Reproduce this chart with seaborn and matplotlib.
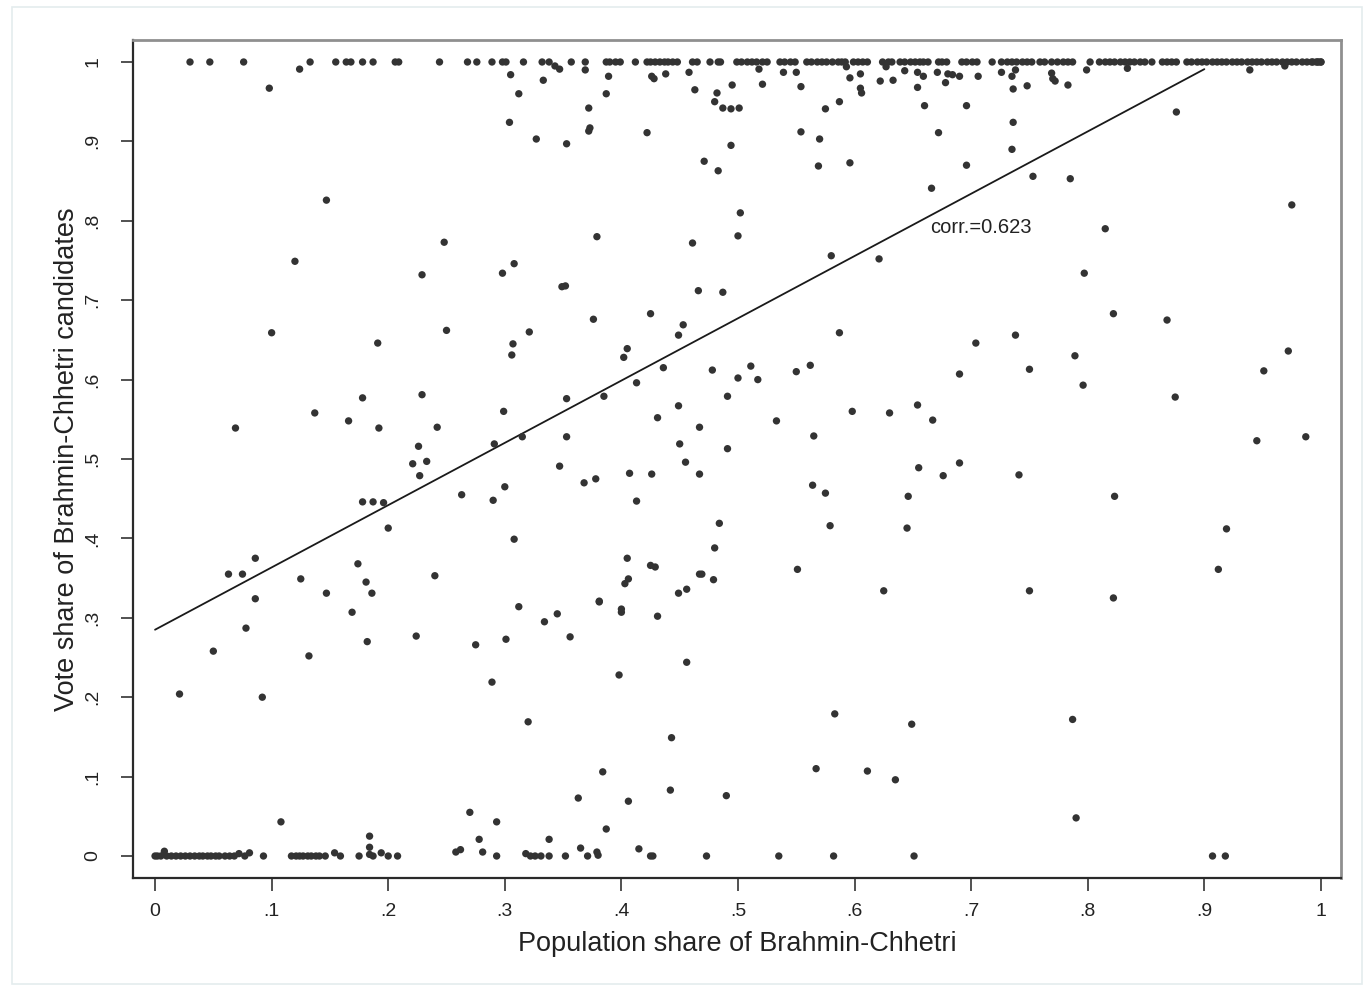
import numpy as np
import pandas as pd
import matplotlib
matplotlib.use("Agg")
import matplotlib.pyplot as plt
import seaborn as sns
from matplotlib.patches import Rectangle

sns.set_style("white")
plt.rcParams['font.family'] = ['Liberation Sans', 'DejaVu Sans']

# ---------------- data ----------------
# constituencies with vote share = 1
top_row_x = [0.030, 0.047, 0.076, 0.133, 0.155, 0.164, 0.168, 0.178, 0.187, 0.206, 0.209,
             0.244, 0.268, 0.276, 0.289, 0.298, 0.301, 0.316, 0.332,
             0.338, 0.357, 0.369, 0.387, 0.390, 0.395, 0.399, 0.412, 0.422, 0.425, 0.429,
             0.433, 0.437, 0.440, 0.444, 0.448, 0.461, 0.465, 0.476, 0.483, 0.485, 0.499,
             0.503, 0.508, 0.512, 0.516, 0.521, 0.525, 0.536, 0.540, 0.545, 0.549, 0.559,
             0.563, 0.568, 0.572, 0.576, 0.581, 0.586, 0.589, 0.592, 0.599, 0.603, 0.607,
             0.611, 0.624, 0.629, 0.632, 0.639, 0.643, 0.648, 0.652, 0.656, 0.659, 0.663,
             0.672, 0.675, 0.679, 0.692, 0.696, 0.701, 0.705, 0.718, 0.726, 0.731, 0.735,
             0.739, 0.744, 0.748, 0.752, 0.759, 0.763, 0.769, 0.774, 0.779, 0.783, 0.787,
             0.802, 0.810, 0.815, 0.819, 0.823, 0.828, 0.832, 0.836, 0.840, 0.845, 0.849,
             0.855, 0.864, 0.868, 0.872, 0.876, 0.885, 0.889, 0.894, 0.898, 0.902, 0.907,
             0.911, 0.915, 0.919, 0.924, 0.928, 0.932, 0.937, 0.941, 0.945, 0.949, 0.954,
             0.958, 0.962, 0.967, 0.971, 0.975, 0.979, 0.984, 0.988, 0.992, 0.993, 0.996,
             0.997, 0.998, 1.000, 1.000]

# constituencies with vote share = 0 (or almost 0)
bottom_row_x = [0.000, 0.002, 0.005, 0.008, 0.010, 0.014, 0.018, 0.022, 0.026, 0.030, 0.034,
                0.038, 0.041, 0.045, 0.048, 0.052, 0.055, 0.060, 0.064, 0.068, 0.072, 0.077,
                0.081, 0.093, 0.117, 0.121, 0.124, 0.127, 0.131, 0.134, 0.138, 0.141, 0.146,
                0.154, 0.159, 0.175, 0.184, 0.187, 0.194, 0.200, 0.208, 0.258, 0.262, 0.281,
                0.293, 0.318, 0.322, 0.326, 0.331, 0.338, 0.352, 0.371, 0.379, 0.380, 0.425,
                0.427, 0.473, 0.535, 0.582, 0.651, 0.907, 0.918]
bottom_row_y = [0.000, 0.000, 0.000, 0.006, 0.000, 0.000, 0.000, 0.000, 0.000, 0.000, 0.000,
                0.000, 0.000, 0.000, 0.000, 0.000, 0.000, 0.000, 0.000, 0.000, 0.003, 0.000,
                0.004, 0.000, 0.000, 0.000, 0.000, 0.000, 0.000, 0.000, 0.000, 0.000, 0.000,
                0.004, 0.000, 0.000, 0.002, 0.000, 0.004, 0.000, 0.000, 0.005, 0.008, 0.005,
                0.000, 0.003, 0.000, 0.000, 0.000, 0.000, 0.000, 0.000, 0.005, 0.001, 0.000,
                0.000, 0.000, 0.000, 0.000, 0.000, 0.000, 0.000]

# all other constituencies
mid_x = [0.124, 0.098, 0.305, 0.312, 0.333, 0.347, 0.389, 0.426, 0.428, 0.438, 0.458, 0.518,
         0.539, 0.550, 0.596, 0.605, 0.622, 0.633, 0.643, 0.654, 0.659, 0.671, 0.678, 0.680,
         0.684, 0.690, 0.706, 0.726, 0.735, 0.738, 0.736, 0.748, 0.769, 0.770, 0.772, 0.783,
         0.799, 0.939, 0.969, 0.834, 0.343, 0.369, 0.593, 0.627,
         0.387, 0.463, 0.482, 0.495, 0.521, 0.554, 0.605, 0.606, 0.654,
         0.372, 0.480, 0.487, 0.494, 0.501, 0.575, 0.587, 0.660, 0.696,
         0.373, 0.372, 0.422, 0.554, 0.570, 0.672, 0.327, 0.304, 0.736, 0.353, 0.494, 0.735,
         0.876, 0.471, 0.483, 0.569, 0.596, 0.696, 0.666, 0.753, 0.785, 0.147, 0.975, 0.502,
         0.500, 0.379, 0.461, 0.248, 0.815, 0.580, 0.621, 0.120, 0.349, 0.352, 0.466, 0.487,
         0.229, 0.298, 0.308, 0.797, 0.376, 0.425, 0.453, 0.822, 0.868,
         0.100, 0.191, 0.250, 0.307, 0.306, 0.321, 0.069, 0.137, 0.166, 0.178, 0.192, 0.229,
         0.242, 0.226, 0.221, 0.233, 0.227, 0.299, 0.291, 0.315, 0.178, 0.187, 0.196, 0.200,
         0.263, 0.290, 0.300, 0.308, 0.086, 0.063, 0.075, 0.086, 0.125, 0.147, 0.174, 0.181,
         0.186, 0.240, 0.312,
         0.449, 0.405, 0.402, 0.436, 0.413, 0.385, 0.353, 0.353, 0.347, 0.368, 0.378, 0.407,
         0.426, 0.413, 0.449, 0.431, 0.467, 0.450, 0.455, 0.467, 0.491, 0.491, 0.478, 0.500,
         0.511, 0.517, 0.550, 0.562, 0.587, 0.533, 0.565, 0.598, 0.630, 0.654, 0.667, 0.655,
         0.676, 0.564, 0.575, 0.579, 0.646, 0.645, 0.484, 0.480, 0.405, 0.425, 0.429, 0.406,
         0.403, 0.469, 0.467, 0.479, 0.449, 0.456, 0.381, 0.400, 0.551, 0.625,
         0.704, 0.738, 0.690, 0.750, 0.789, 0.796, 0.875, 0.972, 0.951, 0.945, 0.987, 0.690,
         0.741, 0.823, 0.919, 0.912, 0.750, 0.822,
         0.078, 0.050, 0.021, 0.092, 0.132, 0.169, 0.182, 0.224, 0.275, 0.289, 0.301, 0.320,
         0.108, 0.270, 0.278, 0.293, 0.184, 0.184,
         0.334, 0.345, 0.356, 0.381, 0.400, 0.431, 0.456, 0.398, 0.443, 0.384, 0.363, 0.406,
         0.442, 0.490, 0.387, 0.583, 0.649, 0.567, 0.611, 0.635, 0.338, 0.365, 0.415,
         0.787, 0.790]
mid_y = [0.991, 0.967, 0.984, 0.960, 0.977, 0.991, 0.982, 0.982, 0.979, 0.985, 0.987, 0.991,
         0.987, 0.987, 0.980, 0.985, 0.976, 0.977, 0.989, 0.987, 0.982, 0.987, 0.974, 0.985,
         0.984, 0.982, 0.982, 0.987, 0.982, 0.990, 0.966, 0.970, 0.986, 0.979, 0.976, 0.971,
         0.990, 0.990, 0.995, 0.992, 0.995, 0.990, 0.994, 0.994,
         0.960, 0.965, 0.961, 0.971, 0.972, 0.969, 0.967, 0.961, 0.968,
         0.942, 0.950, 0.942, 0.941, 0.942, 0.941, 0.950, 0.945, 0.945,
         0.917, 0.913, 0.911, 0.912, 0.903, 0.911, 0.903, 0.924, 0.924, 0.897, 0.895, 0.890,
         0.937, 0.875, 0.863, 0.869, 0.873, 0.870, 0.841, 0.856, 0.853, 0.826, 0.820, 0.810,
         0.781, 0.780, 0.772, 0.773, 0.790, 0.756, 0.752, 0.749, 0.717, 0.718, 0.712, 0.710,
         0.732, 0.734, 0.746, 0.734, 0.676, 0.683, 0.669, 0.683, 0.675,
         0.659, 0.646, 0.662, 0.645, 0.631, 0.660, 0.539, 0.558, 0.548, 0.577, 0.539, 0.581,
         0.540, 0.516, 0.494, 0.497, 0.479, 0.560, 0.519, 0.528, 0.446, 0.446, 0.445, 0.413,
         0.455, 0.448, 0.465, 0.399, 0.375, 0.355, 0.355, 0.324, 0.349, 0.331, 0.368, 0.345,
         0.331, 0.353, 0.314,
         0.656, 0.639, 0.628, 0.615, 0.596, 0.579, 0.576, 0.528, 0.491, 0.470, 0.475, 0.482,
         0.481, 0.447, 0.567, 0.552, 0.540, 0.519, 0.496, 0.481, 0.513, 0.579, 0.612, 0.602,
         0.617, 0.600, 0.610, 0.618, 0.659, 0.548, 0.529, 0.560, 0.558, 0.568, 0.549, 0.489,
         0.479, 0.467, 0.457, 0.416, 0.453, 0.413, 0.419, 0.388, 0.375, 0.366, 0.364, 0.349,
         0.343, 0.355, 0.355, 0.348, 0.331, 0.336, 0.321, 0.311, 0.361, 0.334,
         0.646, 0.656, 0.607, 0.613, 0.630, 0.593, 0.578, 0.636, 0.611, 0.523, 0.528, 0.495,
         0.480, 0.453, 0.412, 0.361, 0.334, 0.325,
         0.287, 0.258, 0.204, 0.200, 0.252, 0.307, 0.270, 0.277, 0.266, 0.219, 0.273, 0.169,
         0.043, 0.055, 0.021, 0.043, 0.025, 0.011,
         0.295, 0.305, 0.276, 0.320, 0.307, 0.302, 0.244, 0.228, 0.149, 0.106, 0.073, 0.069,
         0.083, 0.076, 0.034, 0.179, 0.166, 0.110, 0.107, 0.096, 0.021, 0.010, 0.009,
         0.172, 0.048]

# linear fit drawn in the figure
fit_x = [0.0, 0.9]
fit_y = [0.285, 0.991]
corr_label = "corr.=0.623"

tick_vals = [0, 0.1, 0.2, 0.3, 0.4, 0.5, 0.6, 0.7, 0.8, 0.9, 1.0]
tick_labels = ["0", ".1", ".2", ".3", ".4", ".5", ".6", ".7", ".8", ".9", "1"]

x_title = "Population share of Brahmin-Chhetri"
y_title = "Vote share of Brahmin-Chhetri candidates"

# ---------------- build table ----------------
df = pd.DataFrame({
    "pop_share": list(top_row_x) + list(bottom_row_x) + list(mid_x),
    "vote_share": [1.0] * len(top_row_x) + list(bottom_row_y) + list(mid_y),
})

# ---------------- plot ----------------
fig = plt.figure(figsize=(13.71, 9.88), dpi=100)
ax = fig.add_axes([133 / 1371, 1 - 878 / 988, (1341 - 133) / 1371, (878 - 40) / 988])

sns.scatterplot(data=df, x="pop_share", y="vote_share", ax=ax, color="#333333",
                s=28, edgecolor="none", linewidth=0, legend=False, zorder=3)
sns.lineplot(x=fit_x, y=fit_y, ax=ax, color="#1a1a1a", linewidth=1.3, zorder=2)

ax.text(0.665, 0.791, corr_label, fontsize=14.5, color="#222222", va="center", ha="left")

ax.set_xlim(-0.0189, 1.0172)
ax.set_ylim(-0.0277, 1.0277)
ax.set_xticks(tick_vals)
ax.set_xticklabels(tick_labels)
ax.set_yticks(tick_vals)
ax.set_yticklabels(tick_labels, rotation=90, va="center")

ax.tick_params(axis="both", which="major", direction="out", length=9, width=1.2,
               color="#333333", labelsize=14, labelcolor="#222222", bottom=True, left=True)
ax.tick_params(axis="x", pad=9)
ax.tick_params(axis="y", pad=14)

ax.set_xlabel(x_title, fontsize=19.5, color="#222222", labelpad=8)
ax.set_ylabel(y_title, fontsize=19.5, color="#222222", labelpad=3)

for side in ["left", "bottom"]:
    ax.spines[side].set_color("#2a2a2a")
    ax.spines[side].set_linewidth(1.6)
for side in ["top", "right"]:
    ax.spines[side].set_color("#8f8f8f")
    ax.spines[side].set_linewidth(2.0)
ax.set_facecolor("white")
ax.grid(False)

fig.patches.append(Rectangle((12 / 1371, 1 - 984 / 988), (1362 - 12) / 1371, (984 - 7) / 988,
                             transform=fig.transFigure, fill=False, edgecolor="#e4ecee",
                             linewidth=1.2, zorder=0))

fig.savefig("out.png", dpi=100, facecolor="white")
